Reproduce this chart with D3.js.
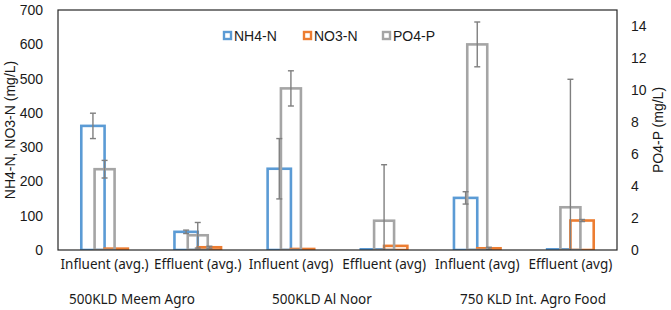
<!DOCTYPE html>
<html>
<head>
<meta charset="utf-8">
<script src="https://cdn.jsdelivr.net/npm/d3@7"></script>
<style>
  body { margin: 0; background: #fff; }
  text { font-family: "Liberation Sans", Arial, sans-serif; fill: #1a1a1a; }
  .cat { font-family: "Noto Sans", "Open Sans", sans-serif; }
</style>
</head>
<body>
<div id="chart"></div>
<script>
// datos
const categories = ["Influent (avg.)", "Effluent (avg.)", "Influent (avg)", "Effluent (avg)", "Influent (avg)", "Effluent (avg)"];
const plants = ["500KLD Meem Agro", "500KLD Al Noor", "750 KLD Int. Agro Food"];
const nh4 = [362, 53, 237, 2, 152, 2];
const nh4Err = [37, 5, 88, 0, 18, 0];
const no3 = [4, 8, 3, 12, 5, 86];
const no3Err = [0, 3, 0, 0, 3, 3];
const po4 = [5.05, 0.92, 10.1, 1.83, 12.85, 2.67];
const po4Err = [0.55, 0.8, 1.1, 3.5, 1.4, 8.0];
const leftTicks = [0, 100, 200, 300, 400, 500, 600, 700];
const rightTicks = [0, 2, 4, 6, 8, 10, 12, 14];

const width = 671, height = 310;
const plot = { left: 58, right: 617, top: 10, bottom: 250 };

const colors = { "NH4-N": "#5b9bd5", "NO3-N": "#ed7d31", "PO4-P": "#a5a5a5" };

const svg = d3.select("#chart").append("svg")
    .attr("width", width)
    .attr("height", height);

// escalas (las etiquetas se repiten, asi que el dominio usa el indice)
const idx = d3.range(categories.length);
const x = d3.scaleBand().domain(idx).range([plot.left, plot.right]);
const xPrim = d3.scaleBand().domain(["NH4-N", "NO3-N"]).range([0, x.bandwidth()]).paddingOuter(1);
const xSec = d3.scaleBand().domain(["PO4-P"]).range([0, x.bandwidth()]).paddingOuter(1.83);
const yL = d3.scaleLinear().domain([0, 700]).range([plot.bottom, plot.top]);
const yR = d3.scaleLinear().domain([0, 15]).range([plot.bottom, plot.top]);

// series
const series = [
    { name: "NH4-N", vals: nh4, errs: nh4Err, y: yL, xs: xPrim },
    { name: "NO3-N", vals: no3, errs: no3Err, y: yL, xs: xPrim },
    { name: "PO4-P", vals: po4, errs: po4Err, y: yR, xs: xSec }
];

svg.append("clipPath").attr("id", "clip")
    .append("rect")
    .attr("x", plot.left).attr("y", plot.top)
    .attr("width", plot.right - plot.left).attr("height", plot.bottom - plot.top);

const gBars = svg.append("g").attr("clip-path", "url(#clip)");

series.forEach(s => {
    const data = idx.map(i => ({ i: i, v: s.vals[i], e: s.errs[i] }));
    gBars.selectAll(".bar-" + s.name)
        .data(data)
        .enter()
        .append("rect")
        .attr("x", d => x(d.i) + s.xs(s.name))
        .attr("y", d => s.y(d.v))
        .attr("width", s.xs.bandwidth())
        .attr("height", d => plot.bottom - s.y(d.v))
        .attr("fill", "none")
        .attr("stroke", colors[s.name])
        .attr("stroke-width", 2.6);
});

// barras de error
series.forEach(s => {
    const data = idx.map(i => ({ i: i, v: s.vals[i], e: s.errs[i] })).filter(d => d.e > 0);
    const cx = d => x(d.i) + s.xs(s.name) + s.xs.bandwidth() / 2;
    const g = gBars.selectAll(".err-" + s.name)
        .data(data)
        .enter()
        .append("g")
        .attr("stroke", "#7f7f7f")
        .attr("stroke-width", 1.4);
    g.append("line")
        .attr("x1", cx).attr("x2", cx)
        .attr("y1", d => s.y(d.v + d.e))
        .attr("y2", d => s.y(d.v - d.e));
    g.append("line")
        .attr("x1", d => cx(d) - 3).attr("x2", d => cx(d) + 3)
        .attr("y1", d => s.y(d.v + d.e)).attr("y2", d => s.y(d.v + d.e));
    g.append("line")
        .attr("x1", d => cx(d) - 3).attr("x2", d => cx(d) + 3)
        .attr("y1", d => s.y(d.v - d.e)).attr("y2", d => s.y(d.v - d.e))
        .attr("display", d => d.v - d.e < 0 ? "none" : null);
});

// marco del area de trazado
svg.append("rect")
    .attr("x", plot.left).attr("y", plot.top)
    .attr("width", plot.right - plot.left).attr("height", plot.bottom - plot.top)
    .attr("fill", "none")
    .attr("stroke", "#262626")
    .attr("stroke-width", 1.2);

// ejes
const axL = svg.append("g")
    .attr("transform", `translate(${plot.left},0)`)
    .call(d3.axisLeft(yL).tickValues(leftTicks).tickSize(0).tickPadding(15));
axL.select(".domain").remove();
axL.selectAll("text").style("font-size", "14px").style("font-family", "'Liberation Sans', Arial, sans-serif").attr("fill", "#1a1a1a");

const axR = svg.append("g")
    .attr("transform", `translate(${plot.right},0)`)
    .call(d3.axisRight(yR).tickValues(rightTicks).tickSize(0).tickPadding(14));
axR.select(".domain").remove();
axR.selectAll("text").style("font-size", "14px").style("font-family", "'Liberation Sans', Arial, sans-serif").attr("fill", "#1a1a1a");

const axB = svg.append("g")
    .attr("transform", `translate(0,${plot.bottom})`)
    .call(d3.axisBottom(x).tickSize(0).tickPadding(9).tickFormat(i => categories[i]));
axB.select(".domain").remove();
axB.selectAll("text")
    .attr("class", "cat")
    .style("font-size", "13.5px")
    .style("font-family", "'Noto Sans', 'Open Sans', sans-serif")
    .attr("fill", "#1a1a1a");

// nombres de las plantas
const plantX = [132, 322, 533];
svg.selectAll(".plant")
    .data(plants)
    .enter()
    .append("text")
    .attr("class", "cat")
    .attr("x", (d, i) => plantX[i])
    .attr("y", 304)
    .attr("text-anchor", "middle")
    .style("font-size", "13.5px")
    .text(d => d);

// titulos de ejes
svg.append("text")
    .attr("transform", `translate(15,${(plot.top + plot.bottom) / 2}) rotate(-90)`)
    .attr("text-anchor", "middle")
    .style("font-size", "14px")
    .text("NH4-N, NO3-N (mg/L)");

svg.append("text")
    .attr("transform", `translate(663,${(plot.top + plot.bottom) / 2}) rotate(-90)`)
    .attr("text-anchor", "middle")
    .style("font-size", "14px")
    .text("PO4-P (mg/L)");

// leyenda
const legendX = [223, 303, 382];
const legend = svg.selectAll(".legend")
    .data(["NH4-N", "NO3-N", "PO4-P"])
    .enter()
    .append("g")
    .attr("transform", (d, i) => `translate(${legendX[i]},36)`);
legend.append("rect")
    .attr("x", 1).attr("y", -4)
    .attr("width", 7).attr("height", 7)
    .attr("fill", "#fff")
    .attr("stroke", d => colors[d])
    .attr("stroke-width", 2.4);
legend.append("text")
    .attr("x", 11).attr("y", 5)
    .style("font-size", "14px")
    .text(d => d);
</script>
</body>
</html>
